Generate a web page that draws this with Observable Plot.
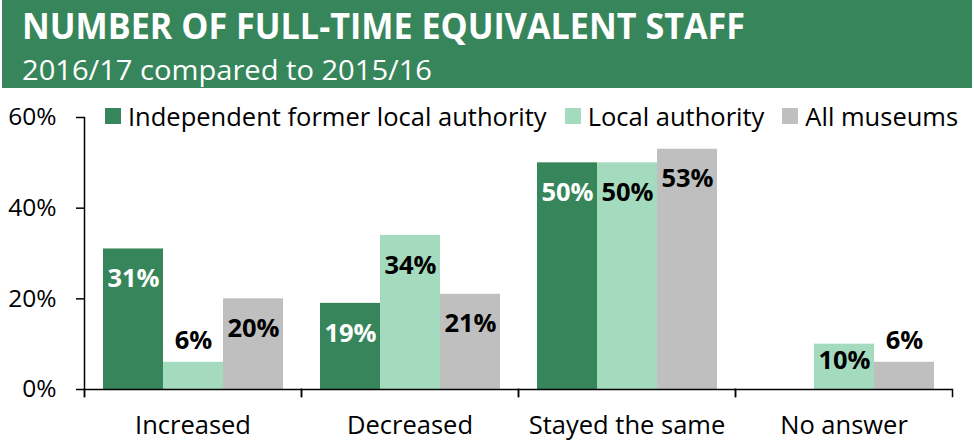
<!DOCTYPE html>
<html><head><meta charset="utf-8">
<script src="https://cdn.jsdelivr.net/npm/d3@7"></script>
<script src="https://cdn.jsdelivr.net/npm/@observablehq/plot@0.6"></script>
<style>
body{margin:0;background:#fff;font-family:"Open Sans",sans-serif;}
#wrap{position:relative;width:974px;height:444px;overflow:hidden;background:#fff}
#header{position:absolute;left:0;top:0}
#chart{position:absolute;left:0;top:90px}
#legend{position:absolute;left:105px;top:103px;display:flex;gap:18px;font-size:25.5px;line-height:26px;color:#000;white-space:nowrap}
#legend .item{display:flex;align-items:center}
#legend .sw{width:16px;height:16px;margin-right:7px;display:inline-block}
</style></head>
<body><div id="wrap"><svg id="header" width="974" height="90"></svg><div id="chart"></div><div id="legend"></div></div>
<script>
const title = "NUMBER OF FULL-TIME EQUIVALENT STAFF";
const subtitle = "2016/17 compared to 2015/16";
const categories = ["Increased", "Decreased", "Stayed the same", "No answer"];
const series = ["Independent former local authority", "Local authority", "All museums"];
const colors = ["#37855B", "#A4DBBF", "#BFBFBF"];
const labelColors = ["#ffffff", "#000000", "#000000"];
const independent = [31, 19, 50, null];
const localAuthority = [6, 34, 50, 10];
const allMuseums = [20, 21, 53, 6];
const yTicks = [0, 20, 40, 60];

const data = [];
[independent, localAuthority, allMuseums].forEach((vals, si) => vals.forEach((v, ci) => {
  if (v != null) data.push({category: categories[ci], series: series[si], value: v});
}));

// header
const hdr = d3.select("#header");
hdr.append("rect").attr("x", 2).attr("y", 0).attr("width", 970).attr("height", 88).attr("fill", "#37855B");
hdr.append("text").attr("x", 22).attr("y", 39).attr("fill", "#fff")
  .attr("font-family", "Open Sans").attr("font-weight", 700).attr("font-size", 35)
  .attr("textLength", 723).attr("lengthAdjust", "spacingAndGlyphs").text(title);
hdr.append("text").attr("x", 22).attr("y", 80).attr("fill", "#fff")
  .attr("font-family", "Open Sans").attr("font-size", 27)
  .attr("textLength", 410).attr("lengthAdjust", "spacingAndGlyphs").text(subtitle);

// legend
const lg = d3.select("#legend");
series.forEach((s, i) => {
  const it = lg.append("div").attr("class", "item");
  it.append("span").attr("class", "sw").style("background", colors[i]);
  it.append("span").text(s);
});

const groups = [
  {test: v => v >= 15, dy: 30},
  {test: v => v >= 8 && v < 15, dy: 17},
  {test: v => v < 8, dy: -21}
];
const labelMarks = [];
series.forEach((s, si) => groups.forEach(g => {
  labelMarks.push(Plot.text(data.filter(d => d.series === s && g.test(d.value)), {
    fx: "category", x: "series", y: "value", text: d => d.value + "%",
    dy: g.dy, fill: (si === 0 || g.dy > 0) ? labelColors[si] : "#000",
    fontWeight: 700, fontSize: 25.5
  }));
}));

const plot = Plot.plot({
  width: 974, height: 354,
  marginLeft: 84, marginRight: 22, marginTop: 27, marginBottom: 48,
  style: {fontFamily: "Open Sans", fontSize: "25px", color: "#000", background: "transparent", overflow: "visible"},
  fx: {domain: categories, padding: 0, label: null},
  x: {domain: series, paddingInner: 0, paddingOuter: 0.279, axis: null},
  y: {domain: [-7 * 60 / 272, 60]},
  color: {domain: series, range: colors},
  marks: [
    Plot.barY(data, {fx: "category", x: "series", y: "value", fill: "series"}),
    Plot.ruleY([0], {stroke: "#000", strokeWidth: 1.5}),
    Plot.frame({anchor: "left", insetTop: 272, stroke: "#000", strokeWidth: 1.5}),
    Plot.frame({anchor: "right", insetTop: 272, stroke: "#000", strokeWidth: 1.5}),
    Plot.frame({anchor: "left", facet: "super", stroke: "#000", strokeWidth: 1.5}),
    Plot.axisY({ticks: yTicks, tickFormat: d => d + "%", tickSize: 8, tickPadding: 20, label: null, fontSize: 24.5, strokeWidth: 1.5}),
    Plot.axisFx({anchor: "bottom", tickSize: 0, tickPadding: 19, label: null, fontSize: 25.5}),
    ...labelMarks
  ]
});
document.getElementById("chart").appendChild(plot);
</script></body></html>
